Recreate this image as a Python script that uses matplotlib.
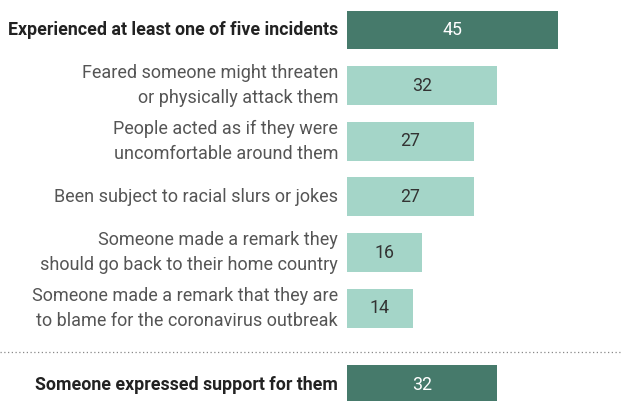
import matplotlib.pyplot as plt
from matplotlib.lines import Line2D

labels = ['Experienced at least one of five incidents',
          'Feared someone might threaten\nor physically attack them',
          'People acted as if they were\nuncomfortable around them',
          'Been subject to racial slurs or jokes',
          'Someone made a remark they\nshould go back to their home country',
          'Someone made a remark that they are\nto blame for the coronavirus outbreak',
          'Someone expressed support for them']
values = [45, 32, 27, 27, 16, 14, 32]
is_bold = [True, False, False, False, False, False, True]
ypos = [0, 1, 2, 3, 4, 5, 6.38]

plt.rcParams['font.family'] = ['Roboto', 'DejaVu Sans']

dark = '#467a6b'
light = '#a4d5c8'

fig = plt.figure(figsize=(6.22, 4.01), dpi=100)
ax = fig.add_axes([347 / 622, 0, 1 - 347 / 622, 1])
ax.set_xlim(0, 275 / 4.69)
ax.set_ylim(6.67, -0.54)
ax.axis('off')

for lab, v, b, y in zip(labels, values, is_bold, ypos):
    ax.barh(y, v, height=0.7, color=dark if b else light)
    ax.text(v / 2, y, str(v), ha='center', va='center', fontsize=12.8,
            color='white' if b else '#333333')
    ax.text(-1.9, y, lab, ha='right', va='center',
            fontsize=12.8 if b else 13,
            color='#222222' if b else '#555555',
            fontweight='bold' if b else 'normal', linespacing=1.5)

fig.add_artist(Line2D([0, 1], [1 - 352 / 401] * 2, color='#888888',
                      linestyle=(0, (1, 2)), linewidth=0.9))

fig.savefig('out.png', dpi=100)
